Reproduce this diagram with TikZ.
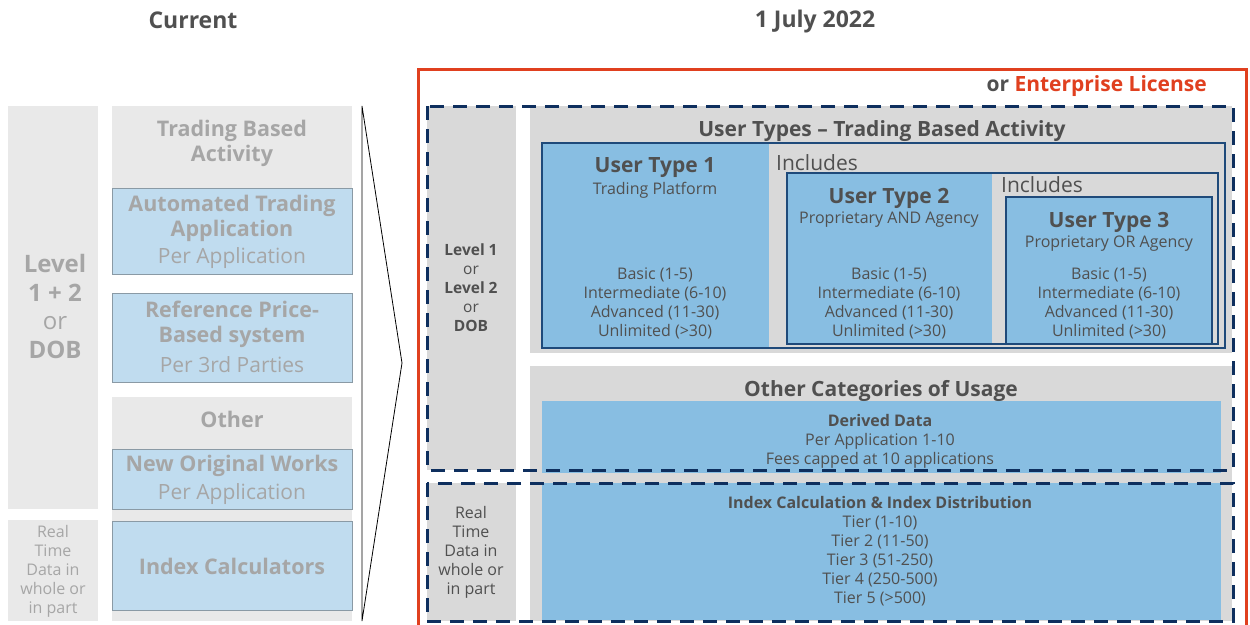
\documentclass[tikz,border=0pt]{standalone}
\usepackage{fontspec}
\setmainfont{Open Sans}
\definecolor{leftgray}{HTML}{E9E9E9}
\definecolor{lblue}{HTML}{C0DCEF}
\definecolor{lborder}{HTML}{8A9AA5}
\definecolor{lighttxt}{HTML}{A6A6A6}
\definecolor{darktxt}{HTML}{505050}
\definecolor{panelgray}{HTML}{D9D9D9}
\definecolor{midblue}{HTML}{88BEE2}
\definecolor{navy}{HTML}{0E2F5E}
\definecolor{navythin}{HTML}{1F4A7A}
\definecolor{licred}{HTML}{E0401F}
\newcommand\fsz[2]{\fontsize{#1}{#2}\selectfont}
\begin{document}
\begin{tikzpicture}[x=1pt,y=-1pt,
  lt/.style={text=lighttxt, align=center, inner sep=0pt},
  dk/.style={text=darktxt, align=center, inner sep=0pt},
  oldbox/.style={fill=lblue, draw=lborder, line width=1pt},
  dashbox/.style={draw=navy, line width=3pt, dash pattern=on 14pt off 9pt},
  thinbox/.style={draw=navythin, line width=1.5pt}]
\useasboundingbox (0,0) rectangle (1250,624);

% column headers
\node[dk, font=\bfseries\fsz{23}{27}] (hcur) at (193,20) {Current};
\node[dk, font=\bfseries\fsz{23}{27}] (hnew) at (815,21.5) {1 July 2022};

% ---- current scheme ----
\fill[leftgray] (8,106) rectangle (98,509);
\fill[leftgray] (8,520) rectangle (98,621);
\fill[leftgray] (112,106) rectangle (352,188);
\path[oldbox] (112,188) rectangle (352,274);
\path[oldbox] (112,293) rectangle (352,382);
\fill[leftgray] (112,397) rectangle (352,621);
\path[oldbox] (112,449) rectangle (352,509);
\path[oldbox] (112,521) rectangle (352,610);

\node[lt, font=\bfseries\fsz{24}{28.5}] (lvl) at (55,306.5) {Level\\1 + 2\\{\mdseries or}\\DOB};
\node[lt, font=\fsz{16}{19}] (rtd) at (53,571) {Real\\Time\\Data in\\whole or\\in part};
\node[lt, font=\bfseries\fsz{21.5}{25}] (tba) at (232,143) {Trading Based\\Activity};
\node[lt, font=\bfseries\fsz{21.5}{25}] (ata) at (232,218) {Automated Trading\\Application};
\node[lt, font=\fsz{21}{25}] (atap) at (232,258.5) {Per Application};
\node[lt, font=\bfseries\fsz{21.5}{25}] (rpb) at (232,324) {Reference Price-\\Based system};
\node[lt, font=\fsz{21}{25}] (rpbp) at (232,364.5) {Per 3rd Parties};
\node[lt, font=\bfseries\fsz{21.5}{25}] (oth) at (232,419) {Other};
\node[lt, font=\bfseries\fsz{21.5}{25}] (now) at (232,466) {New Original Works};
\node[lt, font=\fsz{21}{25}] (nowp) at (232,494.5) {Per Application};
\node[lt, font=\bfseries\fsz{21.5}{25}] (icalc) at (232,566) {Index Calculators};

% transition chevron
\draw[black, line width=0.8pt, line join=miter] (362,106) -- (402,363) -- (362,621) -- cycle;

% ---- new scheme ----
\draw[licred, line width=3pt] (418,640) -- (418,69) -- (1246,69) -- (1246,640);
\node[anchor=east, inner sep=0pt, font=\bfseries\fsz{21}{25}] (ent) at (1207,86)
  {\textcolor{darktxt}{or} \textcolor{licred}{Enterprise License}};

% side panels
\fill[panelgray] (427,106) rectangle (516,470);
\fill[panelgray] (427,483) rectangle (516,621);
% user types panel
\fill[panelgray] (530,106) rectangle (1232,353);
\fill[midblue] (542,143) rectangle (769,348);
\draw[thinbox] (542,143) rectangle (1225,348);
\fill[midblue] (787,173) rectangle (992,344);
\draw[thinbox] (787,173) rectangle (1218,344);
\path[thinbox, fill=midblue] (1006,197) rectangle (1212,344);
% other categories panel
\fill[panelgray] (530,366) rectangle (1232,621);
\fill[midblue] (542,401) rectangle (1221,473);
\fill[midblue] (542,483) rectangle (1221,620);

% dashed groups
\draw[dashbox] (427,106) rectangle (1233,470);
\draw[dashbox] (427,483) rectangle (1233,621);

% texts
\node[dk, font=\fsz{15.5}{19}] (lv12) at (471,288) {\textbf{Level 1}\\or\\\textbf{Level 2}\\or\\\textbf{DOB}};
\node[dk, font=\fsz{16}{19}] (rtd2) at (471,552) {Real\\Time\\Data in\\whole or\\in part};
\node[dk, font=\bfseries\fsz{21}{25}] (utt) at (882,131) {User Types – Trading Based Activity};

\node[dk, font=\bfseries\fsz{21}{25}] (ut1) at (655,168) {User Type 1};
\node[dk, font=\fsz{16}{19}] (ut1s) at (655,190) {Trading Platform};
\node[dk, font=\fsz{16}{19}] (ut1l) at (655,303.5) {Basic (1-5)\\Intermediate (6-10)\\Advanced (11-30)\\Unlimited (>30)};

\node[anchor=west, dk, font=\fsz{21}{25}] (inc1) at (776,163) {Includes};
\node[dk, font=\bfseries\fsz{21}{25}] (ut2) at (889,198) {User Type 2};
\node[dk, font=\fsz{16}{19}] (ut2s) at (889,220) {Proprietary AND Agency};
\node[dk, font=\fsz{16}{19}] (ut2l) at (889,303.5) {Basic (1-5)\\Intermediate (6-10)\\Advanced (11-30)\\Unlimited (>30)};

\node[anchor=west, dk, font=\fsz{21}{25}] (inc2) at (1001,185) {Includes};
\node[dk, font=\bfseries\fsz{21}{25}] (ut3) at (1109,222) {User Type 3};
\node[dk, font=\fsz{16}{19}] (ut3s) at (1109,244) {Proprietary OR Agency};
\node[dk, font=\fsz{16}{19}] (ut3l) at (1109,303.5) {Basic (1-5)\\Intermediate (6-10)\\Advanced (11-30)\\Unlimited (>30)};

\node[dk, font=\bfseries\fsz{21}{25}] (ocu) at (881,391) {Other Categories of Usage};
\node[dk, font=\fsz{16}{19}] (dd) at (880,441) {\textbf{Derived Data}\\Per Application 1-10\\Fees capped at 10 applications};
\node[dk, font=\fsz{16}{19}] (idx) at (880,551.5) {\textbf{Index Calculation \& Index Distribution}\\Tier (1-10)\\Tier 2 (11-50)\\Tier 3 (51-250)\\Tier 4 (250-500)\\Tier 5 (>500)};
\end{tikzpicture}
\end{document}
